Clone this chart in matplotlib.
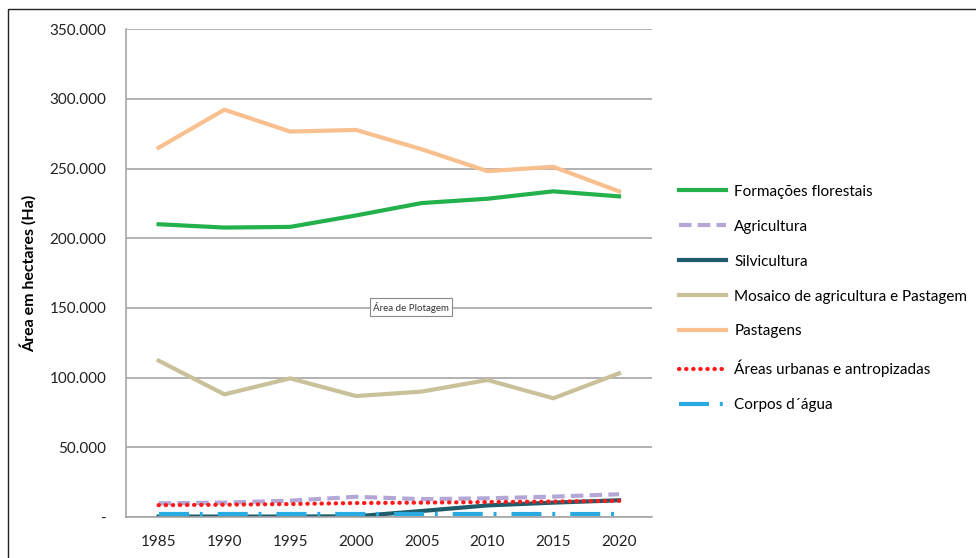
import matplotlib.pyplot as plt
from matplotlib.patches import Rectangle
from matplotlib.ticker import FuncFormatter

plt.rcParams['font.family'] = ['Lato', 'DejaVu Sans']

anos = ["1985", "1990", "1995", "2000", "2005", "2010", "2015", "2020"]

formacoes = [210100, 207700, 208200, 216400, 225300, 228400, 233700, 230100]
agricultura = [9800, 10300, 11700, 14500, 12800, 13400, 14600, 16300]
silvicultura = [300, 300, 300, 500, 4300, 8300, 10300, 12000]
mosaico = [112200, 88000, 99500, 86800, 90000, 98300, 85200, 103100]
pastagens = [265000, 292300, 276600, 277800, 263900, 248200, 251300, 233700]
urbanas = [8500, 8800, 9300, 10000, 10300, 10700, 11100, 11600]
corpos = [1800, 1800, 1800, 1800, 1800, 1800, 1800, 1800]

nomes = ["Formações florestais", "Agricultura", "Silvicultura",
         "Mosaico de agricultura e Pastagem", "Pastagens",
         "Áreas urbanas e antropizadas", "Corpos d´água"]

fig = plt.figure(figsize=(9.76, 5.58), dpi=100)
ax = fig.add_axes([0.1288, 0.0735, 0.5392, 0.874])

x = list(range(len(anos)))
lw = 3
ax.plot(x, formacoes, color="#22b14c", lw=lw, label=nomes[0])
ax.plot(x, agricultura, color="#b4a7d6", lw=lw, linestyle=(0, (3, 1.5)), label=nomes[1])
ax.plot(x, silvicultura, color="#1f5c6b", lw=lw, label=nomes[2])
ax.plot(x, mosaico, color="#c9c19a", lw=lw, label=nomes[3])
ax.plot(x, pastagens, color="#f9c08f", lw=lw, label=nomes[4])
ax.plot(x, urbanas, color="#ff1a1a", lw=lw, linestyle=(0, (0.1, 1.6)),
        dash_capstyle="round", label=nomes[5])
ax.plot(x, corpos, color="#29abe2", lw=lw, linestyle=(0, (7.2, 2.6, 0.7, 3.6)), label=nomes[6])

ax.set_xlim(-0.5, len(anos) - 0.5)
ax.set_ylim(0, 350000)
ax.set_yticks(range(0, 350001, 50000))
ax.set_xticks(x)
ax.set_xticklabels(anos)

def fmt(v, pos):
    if v == 0:
        return "-"
    return f"{int(v):,}".replace(",", ".")

ax.yaxis.set_major_formatter(FuncFormatter(fmt))
ax.tick_params(axis="both", length=0, labelsize=11, colors="#222222")
ax.tick_params(axis="y", pad=14)
ax.tick_params(axis="x", pad=13)
ax.grid(axis="y", color="#a6a6a6", lw=1.2)
ax.set_axisbelow(True)
for s in ["top", "right"]:
    ax.spines[s].set_visible(False)
for s in ["left", "bottom"]:
    ax.spines[s].set_color("#a6a6a6")
    ax.spines[s].set_linewidth(1.2)

ax.set_ylabel("Área em hectares (Ha)", fontsize=11.5, fontweight="bold", labelpad=9)

ax.text(0.542, 0.43, "Área de Plotagem", transform=ax.transAxes, fontsize=7,
        ha="center", va="center", color="#333333",
        bbox=dict(boxstyle="square,pad=0.35", fc="white", ec="#8a8a8a", lw=0.8))

leg = fig.legend(loc="upper left", bbox_to_anchor=(0.682, 0.6935), frameon=False,
                 fontsize=11, handlelength=3.07, handletextpad=0.52, labelspacing=1.37)

fig.patches.append(Rectangle((8 / 976, -0.1), 1.2, 1 - 9 / 558 + 0.1,
                             transform=fig.transFigure, fill=False,
                             ec="#222222", lw=1))

fig.savefig("out.png", dpi=100)
